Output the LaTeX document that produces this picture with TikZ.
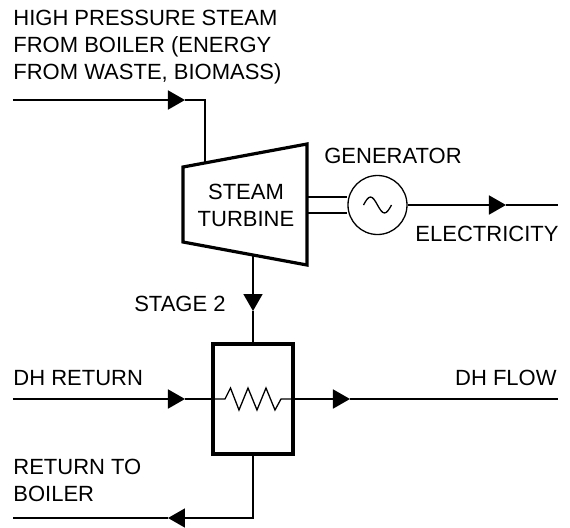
\documentclass[tikz,border=0pt]{standalone}
\usepackage{fontspec}
\setmainfont{Liberation Sans}
\usetikzlibrary{arrows.meta}

\begin{document}
\begin{tikzpicture}[x=0.5pt,y=-0.5pt,
  lbl/.style={inner sep=0pt,font=\fontsize{11}{13.5}\selectfont},
  pipe/.style={line width=0.85pt},
  fine/.style={line width=0.65pt},
  flow/.style={pipe,-{Triangle[length=8.5pt,width=9.5pt]}},
  unit/.style={draw,line width=1.6pt}]
\useasboundingbox (0,0) rectangle (570,527);

% steam turbine
\draw[unit,line join=miter] (183,167) -- (307,144) -- (307,265) -- (183,242) -- cycle;
\node[lbl,align=center] (turb) at (246,205) {STEAM\\TURBINE};
\coordinate (tin) at (205,163);
\coordinate (tout) at (253,256);
\coordinate (shaftA) at (307,197);
\coordinate (shaftB) at (307,213);

% generator
\node[draw,fine,circle,minimum size=29.5pt,inner sep=0pt] (gen) at (377.5,205) {};
\draw[fine] (363.5,205) sin (370.5,197) cos (377.5,205) sin (384.5,213) cos (391.5,205);
\draw[pipe] (shaftA) -- (shaftA -| gen.west);
\draw[pipe] (shaftB) -- (shaftB -| gen.west);

% heat exchanger
\node[unit,minimum width=40pt,minimum height=55pt,inner sep=0pt] (hx) at (253,399) {};
\draw[fine] (hx.west) -- (225,399) -- (230.5,388) -- (239,410) -- (248,388) -- (257,410)
  -- (266,388) -- (275,410) -- (281,399) -- (hx.east);

% free ends and arrow points
\coordinate (hpin) at (13,100);
\coordinate (hparr) at (185,100);
\coordinate (elarr) at (506,205);
\coordinate (elout) at (558,205);
\coordinate (starr) at (253,311);
\coordinate (dhin) at (13,399);
\coordinate (dhinarr) at (185,399);
\coordinate (dhoutarr) at (350,399);
\coordinate (dhout) at (558,399);
\coordinate (retarr) at (168,518);
\coordinate (retout) at (13,518);

% flows
\draw[flow] (hpin) -- (hparr);
\draw[pipe] (hparr) -| (tin);
\draw[flow] (gen) -- (elarr);
\draw[pipe] (elarr) -- (elout);
\draw[flow] (tout) -- (starr);
\draw[pipe] (starr) -- (hx.north);
\draw[flow] (dhin) -- (dhinarr);
\draw[pipe] (dhinarr) -- (hx.west);
\draw[flow] (hx.east) -- (dhoutarr);
\draw[pipe] (dhoutarr) -- (dhout);
\draw[flow] (hx.south) |- (retarr);
\draw[pipe] (retarr) -- (retout);

% labels
\node[lbl,align=left,anchor=north west] (hptxt) at (13,10) {HIGH PRESSURE STEAM\\FROM BOILER (ENERGY\\FROM WASTE, BIOMASS)};
\node[lbl,anchor=base] (gentxt) at (393,163) {GENERATOR};
\node[lbl,anchor=base] (eltxt) at (487,241) {ELECTRICITY};
\node[lbl,anchor=base east] (sttxt) at (226,311) {STAGE 2};
\node[lbl,anchor=base west] (dhrtxt) at (13,385) {DH RETURN};
\node[lbl,anchor=base east] (dhftxt) at (557,385) {DH FLOW};
\node[lbl,align=left,anchor=north west] (rettxt) at (13,459) {RETURN TO\\BOILER};
\end{tikzpicture}
\end{document}
